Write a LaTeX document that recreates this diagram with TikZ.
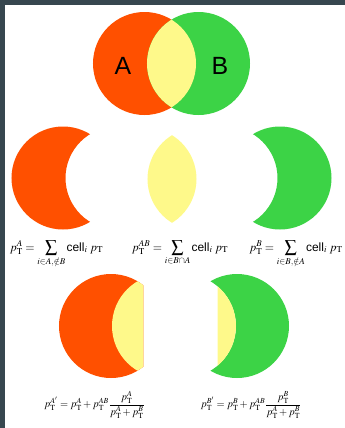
\documentclass[tikz,border=0pt]{standalone}
\usepackage{amsmath,amssymb}
\usepackage{mathptmx}
\usepackage{fontspec}
\setsansfont{Liberation Sans}
\usepackage{tikz}
\usetikzlibrary{positioning}

\definecolor{vred}{RGB}{255,80,0}
\definecolor{vgreen}{RGB}{60,211,70}
\definecolor{vyellow}{RGB}{254,249,138}
\definecolor{frame}{RGB}{55,71,79}

\begin{document}
\begin{tikzpicture}[x=1bp,y=-1bp]
\useasboundingbox (0,0) rectangle (345,428);
\fill[frame] (0,0) rectangle (345,5);
\fill[frame] (0,0) rectangle (5,428);
\fill[vred] (144.5,63.5) circle [radius=51.5bp];
\fill[vgreen] (198.5,63.5) circle [radius=51.5bp];
\begin{scope}
\clip (144.5,63.5) circle [radius=51.5bp];
\fill[vyellow] (198.5,63.5) circle [radius=51.5bp];
\end{scope}
\node[font=\sffamily\fontsize{25}{25}\selectfont] (labA) at (123,66) {A};
\node[font=\sffamily\fontsize{25}{25}\selectfont] (labB) at (220,66) {B};
\begin{scope}[even odd rule]
\clip (0,0) rectangle (345,428) (117,178) circle [radius=51.5bp];
\fill[vred] (63,178) circle [radius=51.5bp];
\end{scope}
\begin{scope}[even odd rule]
\clip (0,0) rectangle (345,428) (226,178) circle [radius=51.5bp];
\fill[vgreen] (280,178) circle [radius=51.5bp];
\end{scope}
\begin{scope}
\clip (145,179) circle [radius=51.5bp];
\fill[vyellow] (199,179) circle [radius=51.5bp];
\end{scope}
\node[anchor=base,font=\fontsize{12}{14}\selectfont] (sumA) at (56.5,251) {$p_{\mathrm T}^{A} = \displaystyle\sum_{i\in A,\notin B} \textsf{cell}_i\; p_{\mathrm T}$};
\node[anchor=base,font=\fontsize{12}{14}\selectfont] (sumAB) at (180,251) {$p_{\mathrm T}^{AB} = \displaystyle\sum_{i\in B\cap A} \textsf{cell}_i\; p_{\mathrm T}$};
\node[anchor=base,font=\fontsize{12}{14}\selectfont] (sumB) at (296,251) {$p_{\mathrm T}^{B} = \displaystyle\sum_{i\in B,\notin A} \textsf{cell}_i\; p_{\mathrm T}$};
\begin{scope}
\clip (0,0) rectangle (143.3,428);
\fill[vred] (111,326) circle [radius=52bp];
\clip (111,326) circle [radius=52bp];
\fill[vyellow] (164,326) circle [radius=52bp];
\end{scope}
\begin{scope}[even odd rule]
\clip (0,0) rectangle (345,428) (184,326) circle [radius=52bp];
\fill[vgreen] (237,326) circle [radius=52bp];
\end{scope}
\begin{scope}
\clip (217.7,0) rectangle (345,428);
\clip (237,326) circle [radius=52bp];
\fill[vyellow] (184,326) circle [radius=52bp];
\end{scope}
\node[anchor=base,font=\fontsize{10.5}{12}\selectfont] (fracA) at (94.5,407.5) {$p_{\mathrm T}^{A'} = p_{\mathrm T}^{A} + p_{\mathrm T}^{AB}\dfrac{p_{\mathrm T}^{A}}{p_{\mathrm T}^{A}+p_{\mathrm T}^{B}}$};
\node[anchor=base,font=\fontsize{10.5}{12}\selectfont] (fracB) at (251,407.5) {$p_{\mathrm T}^{B'} = p_{\mathrm T}^{B} + p_{\mathrm T}^{AB}\dfrac{p_{\mathrm T}^{B}}{p_{\mathrm T}^{A}+p_{\mathrm T}^{B}}$};
\end{tikzpicture}
\end{document}
